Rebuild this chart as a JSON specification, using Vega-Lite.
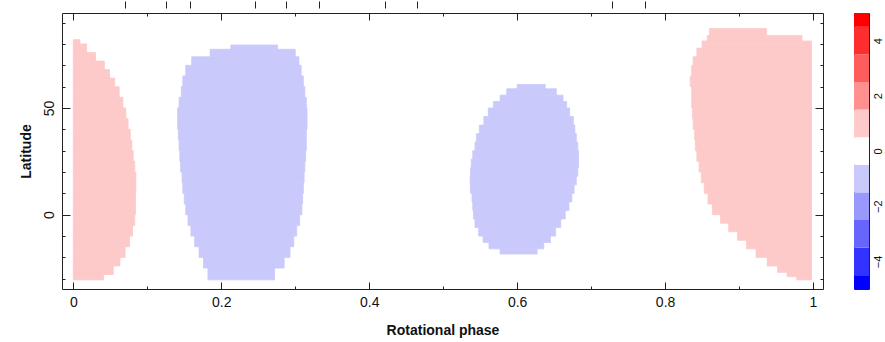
{
  "$schema": "https://vega.github.io/schema/vega-lite/v6.json",
  "background": "white",
  "padding": {"left": 18, "top": 0, "right": 2, "bottom": 0},
  "spacing": 29,
  "config": {
    "view": {"stroke": "#222", "strokeWidth": 1},
    "axis": {
      "labelFont": "Liberation Sans", "labelFontSize": 14, "labelColor": "#111",
      "titleFont": "Liberation Sans", "titleFontSize": 14, "titleFontWeight": "bold", "titleColor": "#111",
      "tickColor": "#222", "tickWidth": 1, "grid": false, "domain": false
    }
  },
  "datasets": {
    "spots": [
      {"spot": "A", "lat_lo": 80, "lat_hi": 82, "ph_lo": 0, "ph_hi": 0.009, "value": 1},
      {"spot": "A", "lat_lo": 76, "lat_hi": 80, "ph_lo": 0, "ph_hi": 0.018, "value": 1},
      {"spot": "A", "lat_lo": 72, "lat_hi": 76, "ph_lo": 0, "ph_hi": 0.030, "value": 1},
      {"spot": "A", "lat_lo": 68, "lat_hi": 72, "ph_lo": 0, "ph_hi": 0.042, "value": 1},
      {"spot": "A", "lat_lo": 64, "lat_hi": 68, "ph_lo": 0, "ph_hi": 0.049, "value": 1},
      {"spot": "A", "lat_lo": 60, "lat_hi": 64, "ph_lo": 0, "ph_hi": 0.056, "value": 1},
      {"spot": "A", "lat_lo": 55, "lat_hi": 60, "ph_lo": 0, "ph_hi": 0.062, "value": 1},
      {"spot": "A", "lat_lo": 50, "lat_hi": 55, "ph_lo": 0, "ph_hi": 0.067, "value": 1},
      {"spot": "A", "lat_lo": 45, "lat_hi": 50, "ph_lo": 0, "ph_hi": 0.071, "value": 1},
      {"spot": "A", "lat_lo": 40, "lat_hi": 45, "ph_lo": 0, "ph_hi": 0.074, "value": 1},
      {"spot": "A", "lat_lo": 35, "lat_hi": 40, "ph_lo": 0, "ph_hi": 0.077, "value": 1},
      {"spot": "A", "lat_lo": 30, "lat_hi": 35, "ph_lo": 0, "ph_hi": 0.079, "value": 1},
      {"spot": "A", "lat_lo": 25, "lat_hi": 30, "ph_lo": 0, "ph_hi": 0.081, "value": 1},
      {"spot": "A", "lat_lo": 20, "lat_hi": 25, "ph_lo": 0, "ph_hi": 0.083, "value": 1},
      {"spot": "A", "lat_lo": 10, "lat_hi": 20, "ph_lo": 0, "ph_hi": 0.0845, "value": 1},
      {"spot": "A", "lat_lo": 0, "lat_hi": 10, "ph_lo": 0, "ph_hi": 0.084, "value": 1},
      {"spot": "A", "lat_lo": -5, "lat_hi": 0, "ph_lo": 0, "ph_hi": 0.083, "value": 1},
      {"spot": "A", "lat_lo": -10, "lat_hi": -5, "ph_lo": 0, "ph_hi": 0.080, "value": 1},
      {"spot": "A", "lat_lo": -15, "lat_hi": -10, "ph_lo": 0, "ph_hi": 0.076, "value": 1},
      {"spot": "A", "lat_lo": -20, "lat_hi": -15, "ph_lo": 0, "ph_hi": 0.070, "value": 1},
      {"spot": "A", "lat_lo": -24, "lat_hi": -20, "ph_lo": 0, "ph_hi": 0.063, "value": 1},
      {"spot": "A", "lat_lo": -28, "lat_hi": -24, "ph_lo": 0, "ph_hi": 0.054, "value": 1},
      {"spot": "A", "lat_lo": -30.5, "lat_hi": -28, "ph_lo": 0, "ph_hi": 0.041, "value": 1},

      {"spot": "B", "lat_lo": 77.5, "lat_hi": 79.5, "ph_lo": 0.213, "ph_hi": 0.276, "value": -1},
      {"spot": "B", "lat_lo": 74, "lat_hi": 77.5, "ph_lo": 0.185, "ph_hi": 0.300, "value": -1},
      {"spot": "B", "lat_lo": 70, "lat_hi": 74, "ph_lo": 0.160, "ph_hi": 0.305, "value": -1},
      {"spot": "B", "lat_lo": 65, "lat_hi": 70, "ph_lo": 0.152, "ph_hi": 0.308, "value": -1},
      {"spot": "B", "lat_lo": 60, "lat_hi": 65, "ph_lo": 0.148, "ph_hi": 0.311, "value": -1},
      {"spot": "B", "lat_lo": 55, "lat_hi": 60, "ph_lo": 0.146, "ph_hi": 0.313, "value": -1},
      {"spot": "B", "lat_lo": 50, "lat_hi": 55, "ph_lo": 0.143, "ph_hi": 0.315, "value": -1},
      {"spot": "B", "lat_lo": 45, "lat_hi": 50, "ph_lo": 0.141, "ph_hi": 0.316, "value": -1},
      {"spot": "B", "lat_lo": 40, "lat_hi": 45, "ph_lo": 0.141, "ph_hi": 0.316, "value": -1},
      {"spot": "B", "lat_lo": 35, "lat_hi": 40, "ph_lo": 0.142, "ph_hi": 0.315, "value": -1},
      {"spot": "B", "lat_lo": 30, "lat_hi": 35, "ph_lo": 0.143, "ph_hi": 0.315, "value": -1},
      {"spot": "B", "lat_lo": 25, "lat_hi": 30, "ph_lo": 0.144, "ph_hi": 0.314, "value": -1},
      {"spot": "B", "lat_lo": 20, "lat_hi": 25, "ph_lo": 0.145, "ph_hi": 0.313, "value": -1},
      {"spot": "B", "lat_lo": 15, "lat_hi": 20, "ph_lo": 0.147, "ph_hi": 0.312, "value": -1},
      {"spot": "B", "lat_lo": 10, "lat_hi": 15, "ph_lo": 0.148, "ph_hi": 0.311, "value": -1},
      {"spot": "B", "lat_lo": 5, "lat_hi": 10, "ph_lo": 0.150, "ph_hi": 0.310, "value": -1},
      {"spot": "B", "lat_lo": 0, "lat_hi": 5, "ph_lo": 0.152, "ph_hi": 0.309, "value": -1},
      {"spot": "B", "lat_lo": -5, "lat_hi": 0, "ph_lo": 0.155, "ph_hi": 0.306, "value": -1},
      {"spot": "B", "lat_lo": -10, "lat_hi": -5, "ph_lo": 0.159, "ph_hi": 0.302, "value": -1},
      {"spot": "B", "lat_lo": -15, "lat_hi": -10, "ph_lo": 0.164, "ph_hi": 0.298, "value": -1},
      {"spot": "B", "lat_lo": -20, "lat_hi": -15, "ph_lo": 0.170, "ph_hi": 0.293, "value": -1},
      {"spot": "B", "lat_lo": -25, "lat_hi": -20, "ph_lo": 0.176, "ph_hi": 0.285, "value": -1},
      {"spot": "B", "lat_lo": -30.5, "lat_hi": -25, "ph_lo": 0.182, "ph_hi": 0.272, "value": -1},

      {"spot": "C", "lat_lo": 59, "lat_hi": 61, "ph_lo": 0.600, "ph_hi": 0.638, "value": -1},
      {"spot": "C", "lat_lo": 56, "lat_hi": 59, "ph_lo": 0.586, "ph_hi": 0.653, "value": -1},
      {"spot": "C", "lat_lo": 53, "lat_hi": 56, "ph_lo": 0.577, "ph_hi": 0.662, "value": -1},
      {"spot": "C", "lat_lo": 50, "lat_hi": 53, "ph_lo": 0.568, "ph_hi": 0.667, "value": -1},
      {"spot": "C", "lat_lo": 46, "lat_hi": 50, "ph_lo": 0.561, "ph_hi": 0.671, "value": -1},
      {"spot": "C", "lat_lo": 42, "lat_hi": 46, "ph_lo": 0.555, "ph_hi": 0.676, "value": -1},
      {"spot": "C", "lat_lo": 38, "lat_hi": 42, "ph_lo": 0.549, "ph_hi": 0.678, "value": -1},
      {"spot": "C", "lat_lo": 34, "lat_hi": 38, "ph_lo": 0.545, "ph_hi": 0.680, "value": -1},
      {"spot": "C", "lat_lo": 30, "lat_hi": 34, "ph_lo": 0.543, "ph_hi": 0.682, "value": -1},
      {"spot": "C", "lat_lo": 26, "lat_hi": 30, "ph_lo": 0.540, "ph_hi": 0.683, "value": -1},
      {"spot": "C", "lat_lo": 22, "lat_hi": 26, "ph_lo": 0.538, "ph_hi": 0.683, "value": -1},
      {"spot": "C", "lat_lo": 18, "lat_hi": 22, "ph_lo": 0.537, "ph_hi": 0.682, "value": -1},
      {"spot": "C", "lat_lo": 14, "lat_hi": 18, "ph_lo": 0.5365, "ph_hi": 0.680, "value": -1},
      {"spot": "C", "lat_lo": 10, "lat_hi": 14, "ph_lo": 0.537, "ph_hi": 0.677, "value": -1},
      {"spot": "C", "lat_lo": 6, "lat_hi": 10, "ph_lo": 0.539, "ph_hi": 0.674, "value": -1},
      {"spot": "C", "lat_lo": 2, "lat_hi": 6, "ph_lo": 0.540, "ph_hi": 0.670, "value": -1},
      {"spot": "C", "lat_lo": -2, "lat_hi": 2, "ph_lo": 0.541, "ph_hi": 0.665, "value": -1},
      {"spot": "C", "lat_lo": -6, "lat_hi": -2, "ph_lo": 0.543, "ph_hi": 0.659, "value": -1},
      {"spot": "C", "lat_lo": -10, "lat_hi": -6, "ph_lo": 0.548, "ph_hi": 0.652, "value": -1},
      {"spot": "C", "lat_lo": -13, "lat_hi": -10, "ph_lo": 0.554, "ph_hi": 0.645, "value": -1},
      {"spot": "C", "lat_lo": -16, "lat_hi": -13, "ph_lo": 0.562, "ph_hi": 0.636, "value": -1},
      {"spot": "C", "lat_lo": -18.4, "lat_hi": -16, "ph_lo": 0.577, "ph_hi": 0.627, "value": -1},

      {"spot": "D", "lat_lo": 84, "lat_hi": 87.2, "ph_lo": 0.860, "ph_hi": 0.937, "value": 1},
      {"spot": "D", "lat_lo": 81.4, "lat_hi": 84, "ph_lo": 0.857, "ph_hi": 0.985, "value": 1},
      {"spot": "D", "lat_lo": 78, "lat_hi": 81.4, "ph_lo": 0.850, "ph_hi": 0.998, "value": 1},
      {"spot": "D", "lat_lo": 74, "lat_hi": 78, "ph_lo": 0.843, "ph_hi": 0.998, "value": 1},
      {"spot": "D", "lat_lo": 70, "lat_hi": 74, "ph_lo": 0.838, "ph_hi": 0.998, "value": 1},
      {"spot": "D", "lat_lo": 65, "lat_hi": 70, "ph_lo": 0.836, "ph_hi": 0.998, "value": 1},
      {"spot": "D", "lat_lo": 60, "lat_hi": 65, "ph_lo": 0.834, "ph_hi": 0.998, "value": 1},
      {"spot": "D", "lat_lo": 55, "lat_hi": 60, "ph_lo": 0.836, "ph_hi": 0.998, "value": 1},
      {"spot": "D", "lat_lo": 50, "lat_hi": 55, "ph_lo": 0.836, "ph_hi": 0.998, "value": 1},
      {"spot": "D", "lat_lo": 45, "lat_hi": 50, "ph_lo": 0.837, "ph_hi": 0.998, "value": 1},
      {"spot": "D", "lat_lo": 40, "lat_hi": 45, "ph_lo": 0.838, "ph_hi": 0.998, "value": 1},
      {"spot": "D", "lat_lo": 35, "lat_hi": 40, "ph_lo": 0.840, "ph_hi": 0.998, "value": 1},
      {"spot": "D", "lat_lo": 30, "lat_hi": 35, "ph_lo": 0.841, "ph_hi": 0.998, "value": 1},
      {"spot": "D", "lat_lo": 25, "lat_hi": 30, "ph_lo": 0.843, "ph_hi": 0.998, "value": 1},
      {"spot": "D", "lat_lo": 20, "lat_hi": 25, "ph_lo": 0.846, "ph_hi": 0.998, "value": 1},
      {"spot": "D", "lat_lo": 15, "lat_hi": 20, "ph_lo": 0.849, "ph_hi": 0.998, "value": 1},
      {"spot": "D", "lat_lo": 10, "lat_hi": 15, "ph_lo": 0.853, "ph_hi": 0.998, "value": 1},
      {"spot": "D", "lat_lo": 5, "lat_hi": 10, "ph_lo": 0.858, "ph_hi": 0.998, "value": 1},
      {"spot": "D", "lat_lo": 0, "lat_hi": 5, "ph_lo": 0.864, "ph_hi": 0.998, "value": 1},
      {"spot": "D", "lat_lo": -4, "lat_hi": 0, "ph_lo": 0.875, "ph_hi": 0.998, "value": 1},
      {"spot": "D", "lat_lo": -8, "lat_hi": -4, "ph_lo": 0.886, "ph_hi": 0.998, "value": 1},
      {"spot": "D", "lat_lo": -12, "lat_hi": -8, "ph_lo": 0.898, "ph_hi": 0.998, "value": 1},
      {"spot": "D", "lat_lo": -16, "lat_hi": -12, "ph_lo": 0.910, "ph_hi": 0.998, "value": 1},
      {"spot": "D", "lat_lo": -20, "lat_hi": -16, "ph_lo": 0.923, "ph_hi": 0.998, "value": 1},
      {"spot": "D", "lat_lo": -24, "lat_hi": -20, "ph_lo": 0.938, "ph_hi": 0.998, "value": 1},
      {"spot": "D", "lat_lo": -27, "lat_hi": -24, "ph_lo": 0.952, "ph_hi": 0.998, "value": 1},
      {"spot": "D", "lat_lo": -29, "lat_hi": -27, "ph_lo": 0.965, "ph_hi": 0.998, "value": 1},
      {"spot": "D", "lat_lo": -30.5, "lat_hi": -29, "ph_lo": 0.978, "ph_hi": 0.998, "value": 1}
    ],
    "bar": [
      {"level": -5, "lo": -5, "hi": -4.5},
      {"level": -4, "lo": -4.5, "hi": -3.5},
      {"level": -3, "lo": -3.5, "hi": -2.5},
      {"level": -2, "lo": -2.5, "hi": -1.5},
      {"level": -1, "lo": -1.5, "hi": -0.5},
      {"level": 0, "lo": -0.5, "hi": 0.5},
      {"level": 1, "lo": 0.5, "hi": 1.5},
      {"level": 2, "lo": 1.5, "hi": 2.5},
      {"level": 3, "lo": 2.5, "hi": 3.5},
      {"level": 4, "lo": 3.5, "hi": 4.5},
      {"level": 5, "lo": 4.5, "hi": 5}
    ]
  },
  "hconcat": [
    {
      "width": 761,
      "height": 276,
      "layer": [
        {
          "data": {"name": "spots"},
          "mark": {"type": "rect", "strokeWidth": 0.8},
          "encoding": {
            "x": {"field": "ph_lo", "type": "quantitative",
              "scale": {"domain": [-0.0153, 1.0135], "nice": false, "zero": false},
              "axis": {"orient": "bottom", "values": [0, 0.2, 0.4, 0.6, 0.8, 1],
                "ticks": false, "labelExpr": "format(datum.value, '~g')",
                "labelPadding": 6, "title": "Rotational phase", "titlePadding": 14}},
            "x2": {"field": "ph_hi"},
            "y": {"field": "lat_lo", "type": "quantitative",
              "scale": {"domain": [-34.8, 94.5], "nice": false, "zero": false},
              "axis": {"orient": "left", "values": [0, 50],
                "ticks": false, "labelAngle": -90, "labelAlign": "center", "labelBaseline": "alphabetic",
                "labelPadding": 9, "title": "Latitude", "titlePadding": 9}},
            "y2": {"field": "lat_hi"},
            "color": {"field": "value", "type": "ordinal",
              "scale": {"domain": [-5, -4, -3, -2, -1, 0, 1, 2, 3, 4, 5],
                "range": ["#0000ff", "#3333ff", "#6666ff", "#9999fd", "#c9c9fb", "#ffffff", "#fdc9c9", "#ff9090", "#ff5c5c", "#ff2e2e", "#ff0000"]},
              "legend": null},
            "stroke": {"field": "value", "type": "ordinal",
              "scale": {"domain": [-5, -4, -3, -2, -1, 0, 1, 2, 3, 4, 5],
                "range": ["#0000ff", "#3333ff", "#6666ff", "#9999fd", "#c9c9fb", "#ffffff", "#fdc9c9", "#ff9090", "#ff5c5c", "#ff2e2e", "#ff0000"]},
              "legend": null}
          }
        },
        {
          "data": {"name": "spots"},
          "mark": {"type": "point", "opacity": 0},
          "encoding": {
            "x": {"field": "ph_lo", "type": "quantitative",
              "axis": {"orient": "top", "values": [0, 0.1, 0.2, 0.3, 0.4, 0.5, 0.6, 0.7, 0.8, 0.9, 1],
                "tickSize": {"condition": {"test": "round(datum.value*10) % 2 === 0", "value": -7}, "value": -3},
                "labels": false, "title": null}},
            "y": {"field": "lat_lo", "type": "quantitative",
              "axis": {"orient": "right", "values": [-30, -20, -10, 0, 10, 20, 30, 40, 50, 60, 70, 80, 90],
                "tickSize": {"condition": {"test": "datum.value % 50 === 0", "value": -8}, "value": -3},
                "labels": false, "title": null}}
          }
        },
        {
          "data": {"name": "spots"},
          "mark": {"type": "point", "opacity": 0},
          "encoding": {
            "x": {"field": "ph_lo", "type": "quantitative",
              "axis": {"orient": "bottom", "values": [0, 0.1, 0.2, 0.3, 0.4, 0.5, 0.6, 0.7, 0.8, 0.9, 1],
                "tickSize": {"condition": {"test": "round(datum.value*10) % 2 === 0", "value": -7}, "value": -3},
                "labels": false, "title": null}},
            "y": {"field": "lat_lo", "type": "quantitative",
              "axis": {"orient": "left", "values": [-30, -20, -10, 0, 10, 20, 30, 40, 50, 60, 70, 80, 90],
                "tickSize": {"condition": {"test": "datum.value % 50 === 0", "value": -8}, "value": -3},
                "labels": false, "title": null}}
          }
        },
        {
          "data": {"name": "spots"},
          "mark": {"type": "point", "opacity": 0},
          "encoding": {
            "x": {"field": "ph_lo", "type": "quantitative",
              "axis": {"orient": "top", "values": [0.0703, 0.1253, 0.1572, 0.2459, 0.2878, 0.3324, 0.4207, 0.4653, 0.7288, 0.773],
                "tickSize": 7, "offset": 5, "labels": false, "title": null}},
            "y": {"field": "lat_lo", "type": "quantitative", "axis": null}
          }
        }
      ],
      "resolve": {"axis": {"x": "independent", "y": "independent"}}
    },
    {
      "width": 15,
      "height": 276,
      "layer": [
        {
          "data": {"name": "bar"},
          "mark": {"type": "rect"},
          "encoding": {
            "x": {"datum": 0, "type": "quantitative", "scale": {"domain": [0, 1], "nice": false, "zero": false}, "axis": null},
            "x2": {"datum": 1},
            "y": {"field": "lo", "type": "quantitative",
              "scale": {"domain": [-5, 5], "nice": false, "zero": false},
              "axis": {"orient": "right", "values": [-4, -3, -2, -1, 0, 1, 2, 3, 4],
                "tickSize": -5, "labelExpr": "datum.value % 2 === 0 ? datum.label : ''",
                "labelAngle": -90, "labelFontSize": 11, "labelPadding": 8, "title": null}},
            "y2": {"field": "hi"},
            "color": {"field": "level", "type": "ordinal",
              "scale": {"domain": [-5, -4, -3, -2, -1, 0, 1, 2, 3, 4, 5],
                "range": ["#0000ff", "#3333ff", "#6666ff", "#9999fd", "#c9c9fb", "#ffffff", "#fdc9c9", "#ff9090", "#ff5c5c", "#ff2e2e", "#ff0000"]},
              "legend": null}
          }
        },
        {
          "data": {"name": "bar"},
          "mark": {"type": "point", "opacity": 0},
          "encoding": {
            "x": {"datum": 0.5, "type": "quantitative", "axis": null},
            "y": {"field": "lo", "type": "quantitative",
              "axis": {"orient": "left", "values": [-4, -3, -2, -1, 0, 1, 2, 3, 4],
                "tickSize": -5, "labels": false, "title": null}}
          }
        }
      ],
      "resolve": {"axis": {"y": "independent"}}
    }
  ]
}
